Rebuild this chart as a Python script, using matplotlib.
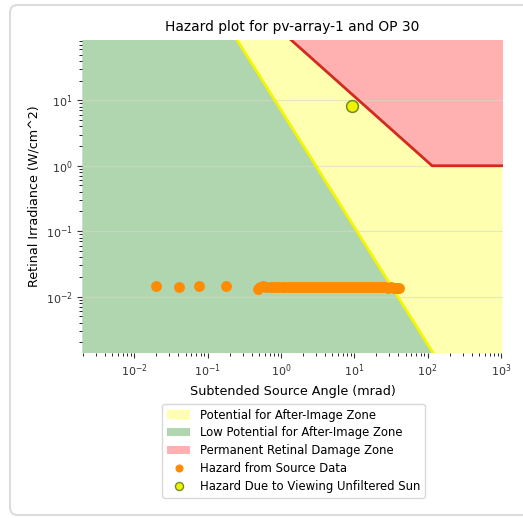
import matplotlib
matplotlib.use("Agg")
import matplotlib.pyplot as plt
from matplotlib.patches import Patch, FancyBboxPatch
from matplotlib.lines import Line2D
import numpy as np

# --- data -------------------------------------------------------------
title = "Hazard plot for pv-array-1 and OP 30"
x_label = "Subtended Source Angle (mrad)"
y_label = "Retinal Irradiance (W/cm^2)"

# glare source hazard points (subtended angle mrad, retinal irradiance W/cm^2)
source_angle = [0.0198, 0.041, 0.077, 0.178,
                0.48, 0.52, 0.56, 0.62, 0.70, 0.78, 0.86, 0.95, 1.05, 1.15,
                1.28, 1.42, 1.55, 1.70, 1.88, 2.05, 2.25, 2.5, 2.75, 3.0,
                3.3, 3.6, 4.0, 4.4, 4.8, 5.3, 5.8, 6.4, 7.0, 7.7, 8.5,
                9.3, 10.2, 11.2, 12.3, 13.5, 14.8, 16.3, 18.0, 19.8,
                21.8, 24.0, 26.4, 29.0, 32.0, 35.0, 38.0, 41.0]
source_irradiance = [0.0146, 0.0141, 0.0146, 0.0146,
                     0.0132, 0.0141, 0.0143, 0.0140, 0.0138, 0.0142, 0.0139,
                     0.0141, 0.0140, 0.0138, 0.0141, 0.0139, 0.0140, 0.0142,
                     0.0139, 0.0141, 0.0140, 0.0139, 0.0141, 0.0140, 0.0141,
                     0.0139, 0.0140, 0.0141, 0.0139, 0.0140, 0.0141, 0.0140,
                     0.0139, 0.0141, 0.0140, 0.0139, 0.0140, 0.0141, 0.0139,
                     0.0140, 0.0139, 0.0140, 0.0139, 0.0140, 0.0138, 0.0139,
                     0.0138, 0.0137, 0.0138, 0.0136, 0.0135, 0.0134]

# unfiltered sun
sun_angle = 9.3
sun_irradiance = 8.3

# zone boundaries
after_image_angle = [0.00195, 1050.0]
after_image_irradiance = [5.0e5, 2.8e-5]   # power law through both ends
damage_angle = [0.00195, 115.0, 1050.0]
damage_irradiance = [5.9e4, 1.0, 1.0]

x_limits = (0.00195, 1050.0)
y_limits = (0.00139, 85.0)

legend_labels = ["Potential for After-Image Zone",
                 "Low Potential for After-Image Zone",
                 "Permanent Retinal Damage Zone",
                 "Hazard from Source Data",
                 "Hazard Due to Viewing Unfiltered Sun"]

# --- styling ----------------------------------------------------------
c_green = "#b0d6b0"
c_yellow = "#ffffb0"
c_red = "#ffb0b0"
c_yline = "#f5f500"
c_rline = "#d42a1e"
c_orange = "#ff8c00"

W, H = 523, 518
fig = plt.figure(figsize=(W / 100, H / 100), dpi=100)

# card outline
card = FancyBboxPatch((10 / W, 3 / H), 560 / W, 510 / H,
                      boxstyle="round,pad=0,rounding_size=0.015",
                      transform=fig.transFigure, facecolor="white",
                      edgecolor="#dcdcdc", linewidth=1.5, zorder=-10)
fig.patches.append(card)

ax = fig.add_axes([82.3 / W, 1 - 352.7 / H, (502.5 - 82.3) / W, (352.7 - 39.5) / H])
ax.set_xscale("log")
ax.set_yscale("log")
ax.set_xlim(*x_limits)
ax.set_ylim(*y_limits)

xs = np.logspace(np.log10(x_limits[0]), np.log10(x_limits[1]), 800)
ai = 10 ** np.interp(np.log10(xs), np.log10(after_image_angle), np.log10(after_image_irradiance))
dm = 10 ** np.interp(np.log10(xs), np.log10(damage_angle), np.log10(damage_irradiance))
ytop = y_limits[1] * 2

ax.fill_between(xs, y_limits[0] / 2, ai, color=c_green, lw=0, zorder=1)
ax.fill_between(xs, ai, np.minimum(dm, ytop), where=dm > ai, color=c_yellow, lw=0, zorder=1)
ax.fill_between(xs, np.maximum(dm, ai), ytop, color=c_red, lw=0, zorder=1)

ax.plot(after_image_angle, after_image_irradiance, color=c_yline, lw=2, zorder=2)
ax.plot(damage_angle, damage_irradiance, color=c_rline, lw=2, zorder=2)

for yv in [1e-2, 1e-1, 1e0, 1e1]:
    ax.axhline(yv, color="#d8d8c8", lw=0.8, alpha=0.6, zorder=1.5)

ax.plot(source_angle, source_irradiance, "o", color=c_orange, ms=6.8,
        mec=c_orange, zorder=3)
ax.plot([sun_angle], [sun_irradiance], "o", color="#f2f200", ms=8.5,
        mec="#6e8e28", mew=1.1, zorder=4)

for s in ax.spines.values():
    s.set_visible(False)
ax.tick_params(labelsize=8, colors="#333333", length=3.5)
ax.tick_params(which="minor", length=2)

ax.set_title(title, fontsize=9.9, pad=6)
ax.set_xlabel(x_label, fontsize=9.2)
ax.set_ylabel(y_label, fontsize=9.2)

handles = [Patch(facecolor=c_yellow, edgecolor="none"),
           Patch(facecolor=c_green, edgecolor="none"),
           Patch(facecolor=c_red, edgecolor="none"),
           Line2D([], [], ls="", marker="o", color=c_orange, ms=4.8),
           Line2D([], [], ls="", marker="o", color="#f2f200", mec="#6e8e28",
                  mew=1.0, ms=5.8)]
fig.legend(handles, legend_labels, loc="upper center",
           bbox_to_anchor=(293.5 / W, 1 - 398 / H), fontsize=8.4,
           frameon=True, edgecolor="#d0d0d0", fancybox=True,
           labelspacing=0.42, handlelength=2.0, borderpad=0.4)

fig.savefig("out.png", dpi=100)
